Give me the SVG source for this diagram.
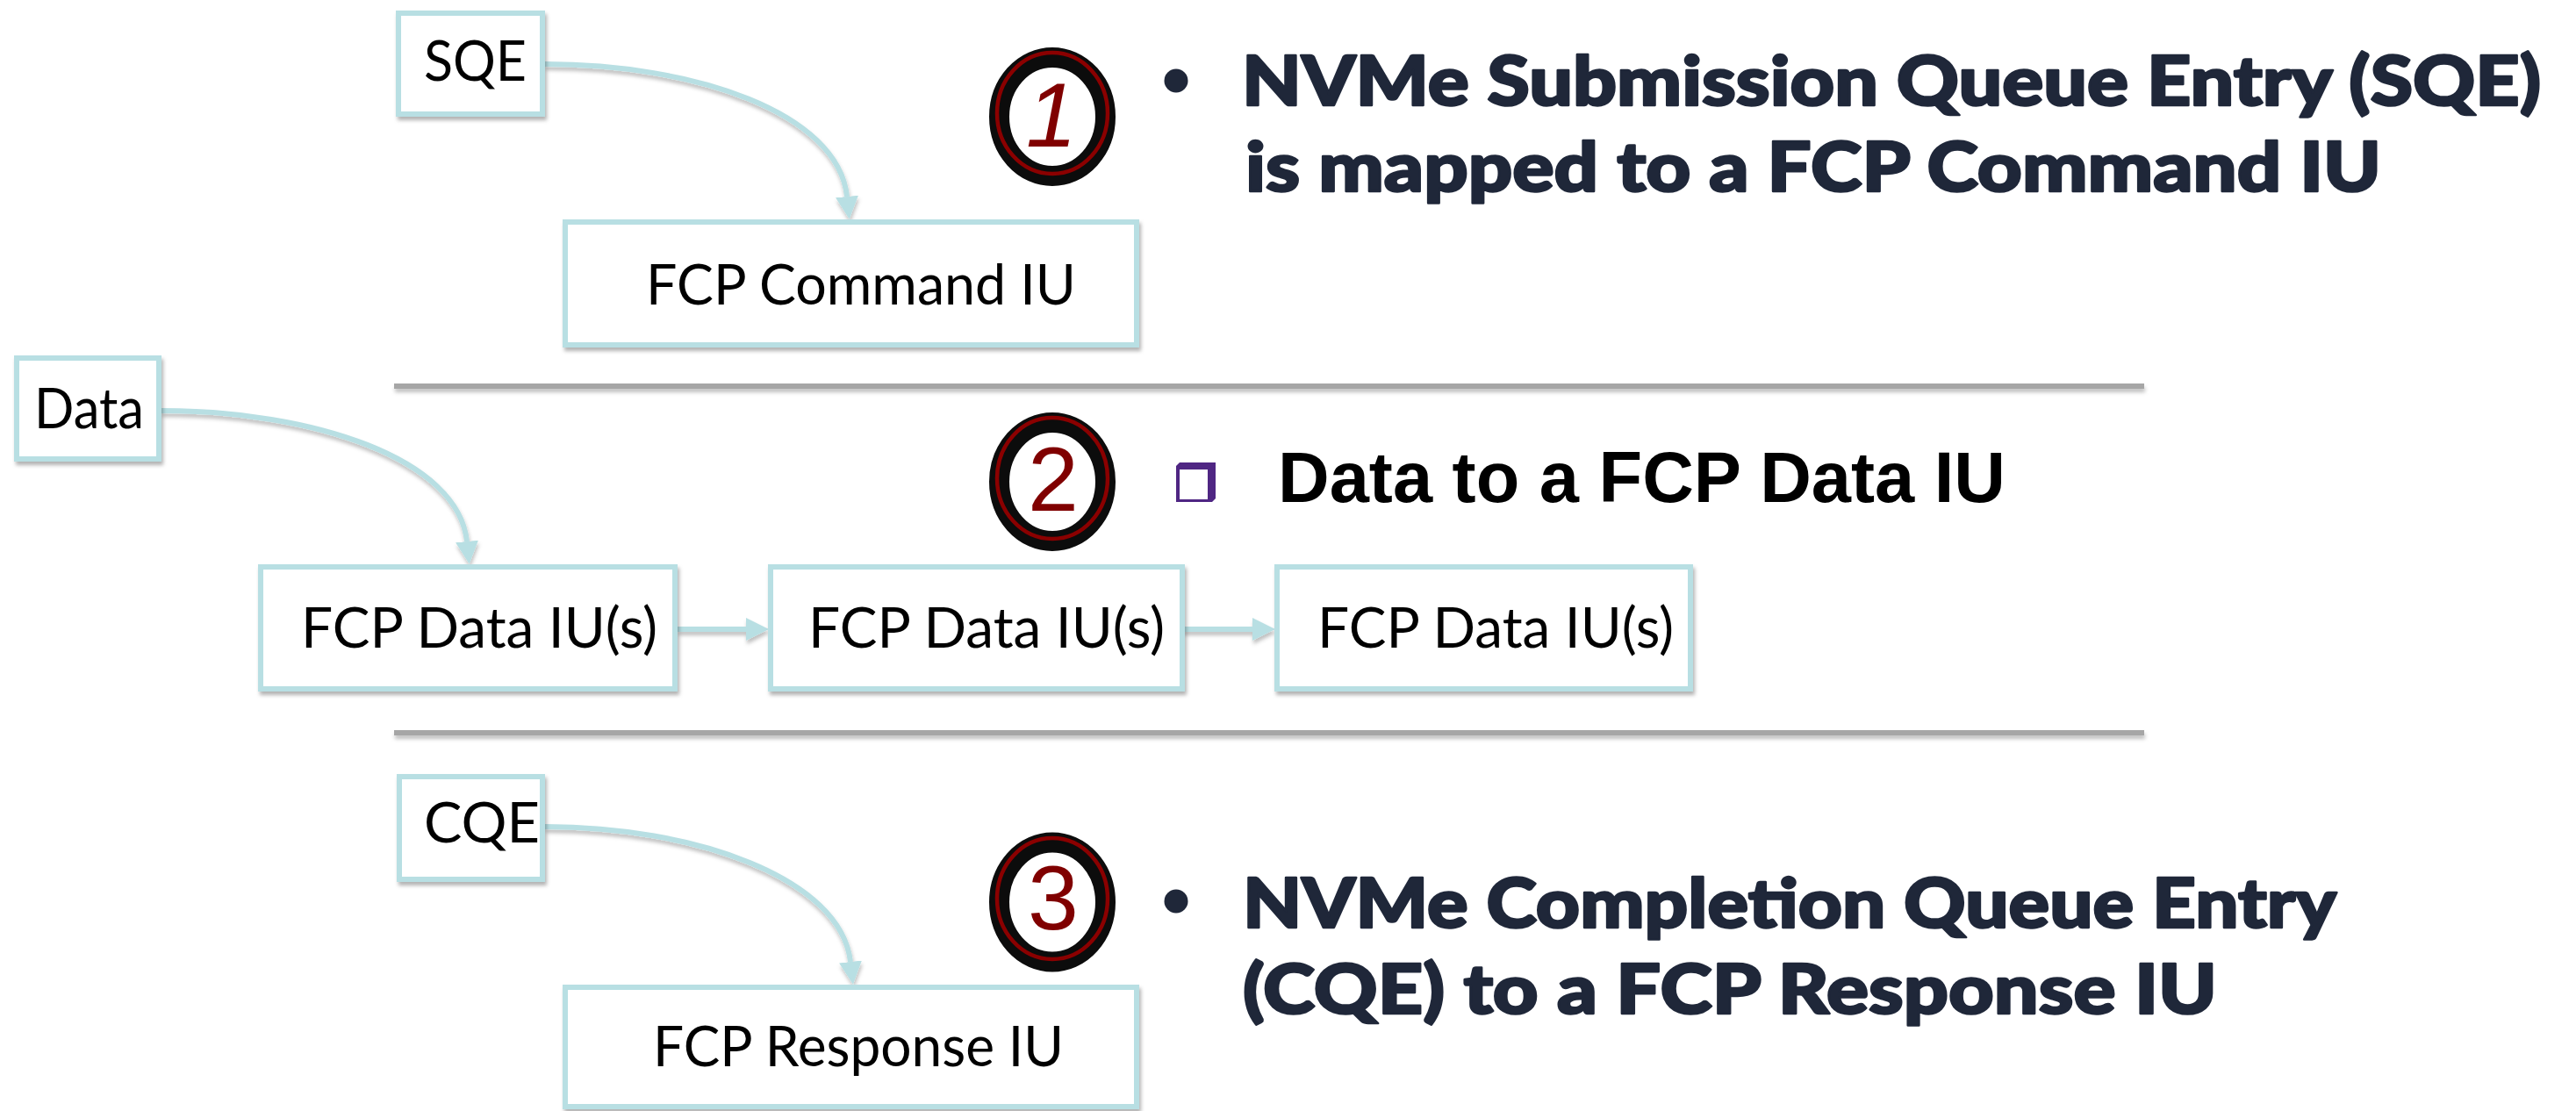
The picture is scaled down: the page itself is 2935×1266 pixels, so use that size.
<svg xmlns="http://www.w3.org/2000/svg" width="2935" height="1266" viewBox="0 0 2935 1266">
  <style>
    .box { fill: #ffffff; stroke: #b8dfe3; stroke-width: 6; filter: url(#shadow); }
    .lbl { font-family: Lato, "Open Sans", sans-serif; font-size: 64px; fill: #000000; }
    .head { font-family: Lato, "Open Sans", sans-serif; font-weight: 900; font-size: 78px; fill: #1f2739; stroke: #1f2739; stroke-width: 2.5; stroke-linejoin: round; }
    .conn { fill: none; stroke: #b8dfe3; stroke-width: 6; marker-end: url(#arrow); }
    .ring { fill: none; stroke: #0c0c0c; stroke-width: 23; }
    .ring-red { fill: none; stroke: #8b0000; stroke-width: 4.5; }
    .num { font-family: "Liberation Sans", Arial, sans-serif; font-size: 104px; fill: #800000; text-anchor: middle; }
  </style>
  <defs>
    <filter id="shadow" x="-10%" y="-20%" width="120%" height="150%">
      <feDropShadow dx="2" dy="4" stdDeviation="2" flood-color="#000000" flood-opacity="0.3"/>
    </filter>
    <filter id="lineShadow" filterUnits="userSpaceOnUse" x="0" y="0" width="2935" height="1266">
      <feDropShadow dx="1" dy="4" stdDeviation="2" flood-color="#000000" flood-opacity="0.25"/>
    </filter>
    <marker id="arrow" markerUnits="userSpaceOnUse" markerWidth="30" markerHeight="30" viewBox="0 -15 30 30" refX="0" refY="0" orient="auto">
      <path d="M0,-13 L26,0 L0,13 z" fill="#b8dfe3"/>
    </marker>
  </defs>

  <rect width="2935" height="1266" fill="#ffffff"/>

  <!-- section separators -->
  <g id="separators" filter="url(#lineShadow)">
    <rect x="449" y="437" width="1994" height="6" fill="#a6a6a6"/>
    <rect x="449" y="832" width="1994" height="6" fill="#a6a6a6"/>
  </g>

  <!-- connectors -->
  <g id="connectors" filter="url(#lineShadow)">
    <path class="conn" d="M621,73 C790,73 955,128 965,224"/>
    <path class="conn" d="M184,468 C355,468 522,522 532,617"/>
    <path class="conn" d="M772,717 L850,717"/>
    <path class="conn" d="M1348,717 L1427,717"/>
    <path class="conn" d="M621,942 C790,942 958,1000 969,1096"/>
  </g>

  <!-- step 1 -->
  <g id="sqe">
    <rect class="box" x="454" y="15" width="164" height="115"/>
    <text class="lbl" x="483" y="92" textLength="117" lengthAdjust="spacingAndGlyphs">SQE</text>
  </g>
  <g id="fcp-command-iu">
    <rect class="box" x="644" y="253" width="651" height="140"/>
    <text class="lbl" x="736" y="347" textLength="490" lengthAdjust="spacingAndGlyphs">FCP Command IU</text>
  </g>
  <g id="badge-1">
    <ellipse class="ring" cx="1199" cy="133" rx="60.5" ry="67.5"/>
    <ellipse class="ring-red" cx="1199" cy="129" rx="63" ry="69"/>
    <text class="num" x="1198" y="167" font-style="italic">1</text>
  </g>
  <g id="text-1">
    <circle cx="1340" cy="92" r="13.5" fill="#1f2739"/>
    <text class="head" x="1415" y="120" textLength="1480" lengthAdjust="spacingAndGlyphs">NVMe Submission Queue Entry (SQE)</text>
    <text class="head" x="1419" y="218" textLength="1294" lengthAdjust="spacingAndGlyphs">is mapped to a FCP Command IU</text>
  </g>

  <!-- step 2 -->
  <g id="data">
    <rect class="box" x="19" y="408" width="162" height="115"/>
    <text class="lbl" x="39" y="488" textLength="125" lengthAdjust="spacingAndGlyphs">Data</text>
  </g>
  <g id="fcp-data-iu-1">
    <rect class="box" x="297" y="646" width="472" height="139"/>
    <text class="lbl" x="343" y="738" textLength="406" lengthAdjust="spacingAndGlyphs">FCP Data IU(s)</text>
  </g>
  <g id="fcp-data-iu-2">
    <rect class="box" x="878" y="646" width="469" height="139"/>
    <text class="lbl" x="921" y="738" textLength="406" lengthAdjust="spacingAndGlyphs">FCP Data IU(s)</text>
  </g>
  <g id="fcp-data-iu-3">
    <rect class="box" x="1455" y="646" width="471" height="139"/>
    <text class="lbl" x="1501" y="738" textLength="406" lengthAdjust="spacingAndGlyphs">FCP Data IU(s)</text>
  </g>
  <g id="badge-2">
    <ellipse class="ring" cx="1199" cy="549" rx="60.5" ry="67.5"/>
    <ellipse class="ring-red" cx="1199" cy="545" rx="63" ry="69"/>
    <text class="num" x="1200" y="582">2</text>
  </g>
  <g id="text-2">
    <path d="M1344,527 L1385,527 L1385,568 L1381,572 L1340,572 L1340,531 Z" fill="#4f2683"/>
    <rect x="1344" y="535" width="32" height="34" fill="#ffffff"/>
    <text x="1456" y="572" font-family="'Liberation Sans', Arial, sans-serif" font-weight="700" font-size="81" fill="#000000" textLength="829" lengthAdjust="spacingAndGlyphs">Data to a FCP Data IU</text>
  </g>

  <!-- step 3 -->
  <g id="cqe">
    <rect class="box" x="455" y="885" width="163" height="117"/>
    <text class="lbl" x="483" y="960" textLength="132" lengthAdjust="spacingAndGlyphs">CQE</text>
  </g>
  <g id="fcp-response-iu">
    <rect class="box" x="644" y="1125" width="651" height="136"/>
    <text class="lbl" x="744" y="1215" textLength="468" lengthAdjust="spacingAndGlyphs">FCP Response IU</text>
  </g>
  <g id="badge-3">
    <ellipse class="ring" cx="1199" cy="1028" rx="60.5" ry="68"/>
    <ellipse class="ring-red" cx="1199" cy="1024" rx="63" ry="69"/>
    <text class="num" x="1200" y="1059">3</text>
  </g>
  <g id="text-3">
    <circle cx="1340" cy="1027" r="13.5" fill="#1f2739"/>
    <text class="head" x="1416" y="1057" textLength="1246" lengthAdjust="spacingAndGlyphs">NVMe Completion Queue Entry</text>
    <text class="head" x="1416" y="1155" textLength="1110" lengthAdjust="spacingAndGlyphs">(CQE) to a FCP Response IU</text>
  </g>
</svg>
